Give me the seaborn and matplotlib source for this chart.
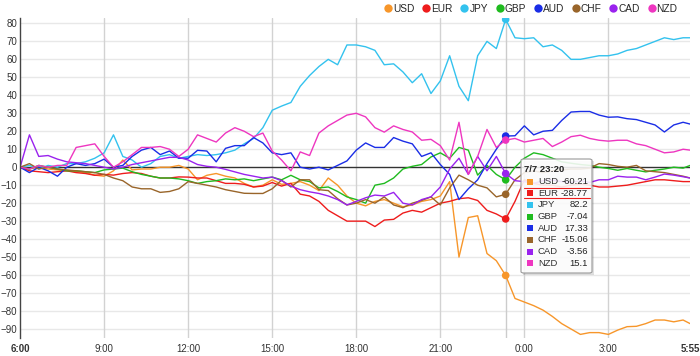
import pandas as pd
import matplotlib
matplotlib.use('Agg')
import matplotlib.pyplot as plt
import matplotlib.patches as mpatches
from matplotlib.lines import Line2D
import seaborn as sns

# 20 minute steps from 6:00, last point at 5:55 next day
times = list(pd.date_range('2015-07-07 06:00', periods=72, freq='20min')) + [pd.Timestamp('2015-07-08 05:55')]

currencies = ['USD', 'EUR', 'JPY', 'GBP', 'AUD', 'CHF', 'CAD', 'NZD']
colors = ['#f7962a', '#ee1c1c', '#33c2ee', '#1fbb1f', '#1a2de6', '#99652a', '#9a22ee', '#ee36c0']

usd = [0, -1, 0, -1, -1.5, -2, -2.5, -3, -4.4, -5,
       -2, 4, -1.5, -1, -1, 0, 0, 1, -1, -7,
       -4.5, -3.5, -5, -6, -9, -11, -10, -7, -9.5, -9,
       -8, -10, -13, -6, -10, -16, -20, -21.5, -19, -18,
       -20, -22, -21, -19, -18, -16, -8, -50, -28, -27,
       -48, -52, -60.21, -73, -75, -77, -79.5, -83, -87, -90,
       -93, -92, -92, -93, -90.6, -88.7, -88.5, -87, -85, -85,
       -86, -85, -87]
eur = [0, -2, -2.5, -3, -2.5, -2, -3, -3.5, -4.5, -4,
       -4.4, -3.5, -3, -3.5, -5, -6, -6, -5.4, -5.5, -6,
       -6, -7.5, -9, -9, -9.5, -11, -10.5, -8.5, -10.5, -9,
       -15, -16, -19, -24, -27, -30, -30, -30, -33, -29.4,
       -29, -25.5, -24, -25, -22.5, -20, -19, -17.5, -17, -18.5,
       -24, -26, -28.77, -19, -7, -9, -10, -10, -11, -10,
       -9.5, -10, -11, -11, -10.5, -10, -9, -8, -7, -7,
       -7.5, -8, -8]
jpy = [0, 1, -1, 1, 0, 2, 2, 3, 5, 8,
       18, 6, 4, 0, 2, 6, 7, 5, 6, 7,
       6.5, 7, 8, 9.5, 13, 16, 22, 31.7, 34, 36,
       45, 51, 56, 60, 57, 68, 68, 67, 65, 57,
       57.5, 53, 47, 52, 41, 48, 62, 45, 37, 62,
       70, 66, 82.2, 72, 71.5, 72, 67, 68, 65, 60,
       60, 61, 62, 62, 63, 65, 66, 68, 70, 72,
       71, 72, 72]
gbp = [0, -1, 1, 0, -1, -2, -2, -2.5, -3, -1.5,
       -1, -0.5, -2.5, -4, -5, -6, -6, -6.5, -7.5, -9,
       -8, -7.5, -6.5, -7, -6.5, -7.5, -6.5, -5.5, -7, -4.5,
       -7, -8, -11.5, -11, -13.5, -16.5, -18, -20, -10, -9,
       -6, -1, 0.5, 1.5, 5.7, 8, 5, 11, 9.5, -4.4,
       1, -4, -7.04, 0, 5, 8, 7, 5, 3, 2.2,
       1.5, 1, 0, -0.7, -1.7, -0.7, -1.7, -2.6, -1.7, -1,
       0, -0.5, 1]
aud = [0, -3, 0, -2, -5, 0, 2, 1, 2, 4.5,
       0, 1, 6, 9.5, 11, 7, 9, 5, 5, 9.4,
       9, 3, 10.5, 12, 12, 16.5, 13.5, 8, 7, 8,
       0, -1, 0, -1.5, 1, 3.5, 9.5, 13.5, 11, 11,
       16.5, 14.5, 13, 6, 8, 1.5, -4, -18, -12, -7,
       2, 10, 17.33, 17.5, 23, 18, 20, 20.5, 26, 30.7,
       31, 31, 29, 27.8, 28, 27, 26.5, 25, 23.5, 19.6,
       23.5, 25, 24]
chf = [0, 2, -1, 0, -1, -1.5, -2, -2.5, -3, -4,
       -6, -7.5, -11, -12, -12, -14, -13.5, -12, -8, -9,
       -10, -11, -12.5, -13.5, -14.5, -14.6, -14.6, -12, -7.2, -11,
       -7, -7, -12.5, -13, -17.5, -21, -20, -18, -20, -16.5,
       -21, -22.5, -20, -18.5, -16.5, -21, -11.5, -4.4, -7, -10,
       -11.5, -16.5, -15.06, -7, -3, -2, -3, -2, -1.5, -1,
       -1, -0.5, 2, 1.5, 0.5, 0, 1, -2, -2.5, -3,
       -4, -5, -6]
cad = [0, 18, 6, 6.5, 4.5, 3, 2.5, 2, 1, 0,
       -1, 0, 1.5, 2.5, 3.5, 4.5, 5.5, 5.5, 4, 1.5,
       0.5, 0, -1.2, -2.6, -4, -5, -6, -5.5, -7.5, -10.5,
       -12.5, -13.7, -14.6, -16, -18, -21, -19, -17, -15.5, -16,
       -14, -20, -21, -18, -16.5, -11, -1, 5, -4, 6,
       -2, 6, -3.56, -7.5, -8, -9, -7.5, -7.2, -8, -8.5,
       -7.5, -8.5, -7, -7, -5, -5.5, -5.5, -7, -5.5, -3.8,
       -4.4, -5.3, -6]
nzd = [0, -1, 1, 0, 1, 1, 11, 12, 13, 6,
       0, 3, 7, 11, 11, 11.5, 10, 6, 10, 18,
       16, 14, 19, 22, 20, 17, 19, 9, 4, -2,
       8.5, 6.5, 19, 23, 26, 29, 30, 28, 22, 19.5,
       23, 21, 19.6, 15, 15.5, 12, 4, 25, -4, 6,
       21, 11, 15.1, 16, 14, 15, 16, 11.5, 14, 17,
       17.8, 16, 15, 14.5, 15, 15, 13, 12, 10, 8,
       8.5, 10, 9.5]

series = [usd, eur, jpy, gbp, aud, chf, cad, nzd]
hover = 52  # index of 7/7 23:20

frames = [pd.DataFrame({'time': times, 'value': vals, 'currency': name})
          for name, vals in zip(currencies, series)]
df = pd.concat(frames, ignore_index=True)

sns.set_style('white')
plt.rcParams['font.family'] = ['Liberation Sans', 'DejaVu Sans']

W, H = 700, 356
fig = plt.figure(figsize=(W / 100, H / 100), dpi=100)
ax = fig.add_axes([20.1 / W, 18 / H, 670 / W, 320 / H])

# grid first
for v in range(-90, 90, 10):
    if v != 0:
        ax.axhline(v, color='#e8e8e8', lw=1, zorder=0)
grid_times = pd.date_range('2015-07-07 09:00', periods=7, freq='3h')
for t in grid_times:
    ax.axvline(t, color='#d2d2d2', lw=1, zorder=0)
ax.axvline(times[hover], color='#cccccc', lw=1, zorder=0)
ax.axhline(0, color='#333333', lw=1, zorder=1)

palette = dict(zip(currencies, colors))
sns.lineplot(data=df, x='time', y='value', hue='currency', hue_order=currencies,
             palette=palette, linewidth=1.0, estimator=None, legend=False, ax=ax, zorder=2)

# hover markers
for vals, c in zip(series, colors):
    ax.scatter([times[hover]], [vals[hover]], s=30, color=c, zorder=4, edgecolors='none')

ax.set_xlim(times[0], times[-1])
ax.set_ylim(-95, 83)
ax.set_xlabel('')
ax.set_ylabel('')
ax.set_yticks(range(-90, 90, 10))
tick_pos = [times[0]] + list(grid_times) + [times[-1]]
tick_lab = ['6:00', '9:00', '12:00', '15:00', '18:00', '21:00', '0:00', '3:00', '5:55']
ax.set_xticks(tick_pos)
ax.set_xticklabels(tick_lab)
ax.tick_params(axis='both', length=0, labelsize=7, colors='#333333')
ax.tick_params(axis='x', pad=4)
ax.tick_params(axis='y', pad=2)
for lab in (ax.get_xticklabels()[0], ax.get_xticklabels()[-1]):
    lab.set_fontweight('bold')
for s in ['top', 'right', 'bottom']:
    ax.spines[s].set_visible(False)
ax.spines['left'].set_color('#444444')
ax.spines['left'].set_linewidth(1)

# legend on top
handles = [Line2D([], [], marker='o', linestyle='none', markersize=6,
                  markerfacecolor=c, markeredgecolor='none') for c in colors]
fig.legend(handles, currencies, loc='center right', bbox_to_anchor=(0.968, 1 - 8.5 / H),
           ncol=8, frameon=False, fontsize=7.3, handletextpad=0.1, columnspacing=0.75,
           handlelength=0.8, borderaxespad=0, borderpad=0)


# tooltip, drawn in pixel coordinates of the figure
def fx(x):
    return x / W


def fy(y):
    return 1 - y / H


x0, y0, x1, y1 = 521, 159, 592, 273
fig.patches.append(mpatches.Rectangle((fx(x0 + 2), fy(y1 + 2)), fx(x1 - x0), (y1 - y0) / H,
                                      transform=fig.transFigure, facecolor='#000000', alpha=0.12,
                                      edgecolor='none', zorder=5))
fig.patches.append(mpatches.FancyBboxPatch((fx(x0), fy(y1)), fx(x1 - x0), (y1 - y0) / H,
                                           boxstyle='round,pad=0,rounding_size=0.004',
                                           transform=fig.transFigure, facecolor=(1, 1, 1, 0.88),
                                           edgecolor='#999999', lw=0.8, zorder=6))
fig.text(fx(524), fy(169), '7/7 23:20', fontsize=6.8, fontweight='bold', color='#222222',
         va='center', ha='left', zorder=7)
for i, (name, vals, c) in enumerate(zip(currencies, series, colors)):
    yy = 181.5 + i * 11.7
    fig.patches.append(mpatches.Rectangle((fx(527), fy(yy + 3)), 6 / W, 6 / H,
                                          transform=fig.transFigure, facecolor=c,
                                          edgecolor='none', zorder=7))
    fig.text(fx(538), fy(yy), name, fontsize=6.8, color='#333333', va='center', ha='left', zorder=7)
    fig.text(fx(588), fy(yy), f'{vals[hover]:g}', fontsize=6.8, color='#222222',
             va='center', ha='right', zorder=7)
for yy in (187.5, 198):
    fig.lines.append(Line2D([fx(524), fx(590)], [fy(yy), fy(yy)], transform=fig.transFigure,
                            color='#ee1c1c', lw=0.8, zorder=7))

fig.savefig('out.png', dpi=100)
